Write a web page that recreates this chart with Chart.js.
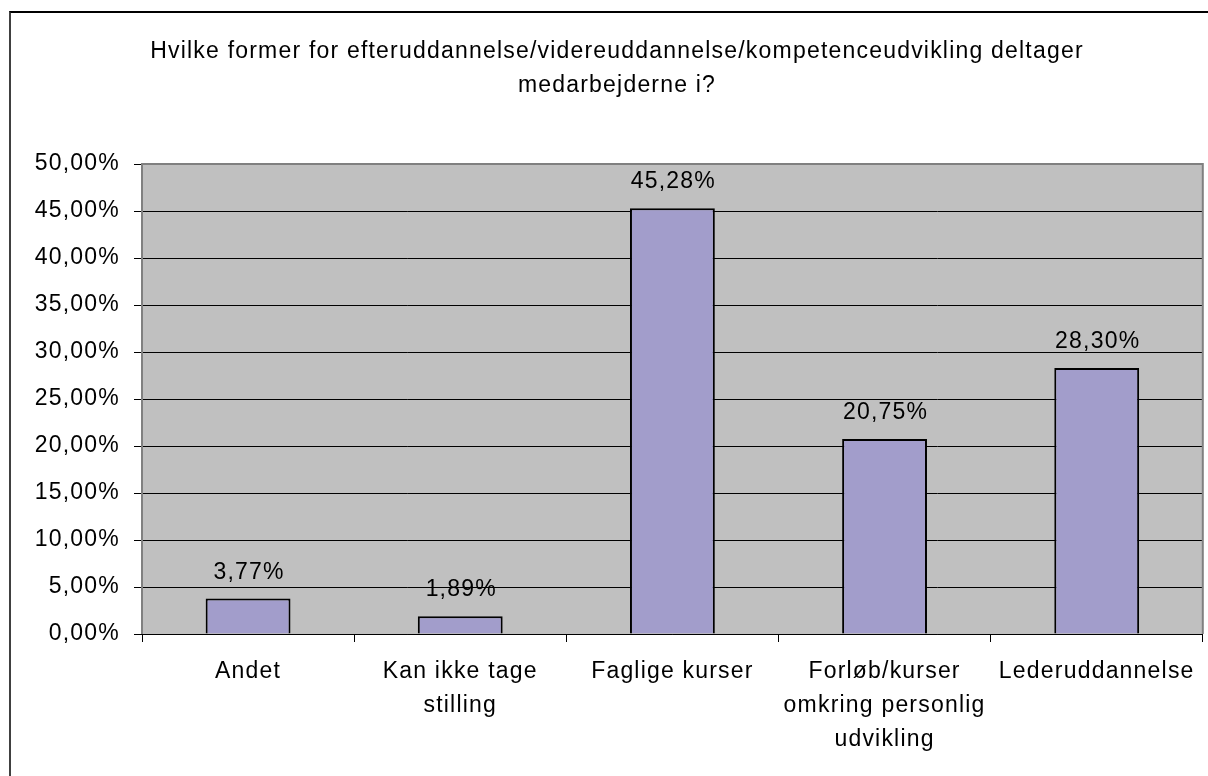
<!DOCTYPE html>
<html>
<head>
<meta charset="utf-8">
<script src="https://cdn.jsdelivr.net/npm/chart.js@4.4.1/dist/chart.umd.min.js"></script>
<style>
	html, body { margin: 0; padding: 0; background: #fff; overflow: hidden; }
	#wrap { position: relative; width: 1208px; height: 776px; }
	#frame {
		position: absolute; left: 9px; top: 11px; width: 1400px; height: 1000px;
		border-left: 2px solid #404040; border-top: 2px solid #000;
	}
	#chart { position: absolute; left: 0; top: 0; }
</style>
</head>
<body>
<div id="wrap">
	<div id="frame"></div>
	<canvas id="chart" width="1208" height="776"></canvas>
</div>
<script>
var TITLE_LINES = ['Hvilke former for efteruddannelse/videreuddannelse/kompetenceudvikling deltager', 'medarbejderne i?'];
var CATEGORIES = ['Andet', ['Kan ikke tage', 'stilling'], 'Faglige kurser', ['Forløb/kurser', 'omkring personlig', 'udvikling'], 'Lederuddannelse'];
var SHARES = [3.77, 1.89, 45.28, 20.75, 28.30];
var Y_MIN = 0, Y_MAX = 50, Y_STEP = 5;

var FONT = { family: "'Liberation Sans', Arial, sans-serif", size: 23, lineHeight: '34px' };

function pct(v) {
	return v.toFixed(2).replace('.', ',') + '%';
}

// Excel-like wide text: letter spacing has to be reset after every canvas resize
var spacingPlugin = {
	id: 'spacing',
	beforeLayout: function (chart) { chart.ctx.letterSpacing = '1.2px'; },
	beforeDraw: function (chart) { chart.ctx.letterSpacing = '1.2px'; }
};

// Grey plot background and its border
var plotAreaPlugin = {
	id: 'plotArea',
	beforeDraw: function (chart) {
		var a = chart.chartArea, ctx = chart.ctx;
		ctx.save();
		ctx.fillStyle = '#C0C0C0';
		ctx.fillRect(a.left, a.top, a.right - a.left, a.bottom - a.top);
		ctx.restore();
	},
	afterDraw: function (chart) {
		var a = chart.chartArea, ctx = chart.ctx;
		ctx.save();
		ctx.strokeStyle = '#808080';
		ctx.lineWidth = 2;
		ctx.beginPath();
		ctx.moveTo(a.left, a.bottom);
		ctx.lineTo(a.left, a.top);
		ctx.lineTo(a.right, a.top);
		ctx.lineTo(a.right, a.bottom);
		ctx.stroke();
		ctx.restore();
	}
};

// Value labels above each bar
var valueLabelPlugin = {
	id: 'valueLabels',
	afterDatasetsDraw: function (chart) {
		var ctx = chart.ctx;
		var meta = chart.getDatasetMeta(0);
		ctx.save();
		ctx.font = FONT.size + 'px ' + FONT.family;
		ctx.fillStyle = '#000';
		ctx.textAlign = 'center';
		ctx.textBaseline = 'alphabetic';
		meta.data.forEach(function (bar, i) {
			ctx.fillText(pct(SHARES[i]), bar.x + 1, bar.y - 20);
		});
		ctx.restore();
	}
};

var chart = new Chart(document.getElementById('chart'), {
	type: 'bar',
	data: {
		labels: CATEGORIES,
		datasets: [{
			data: SHARES,
			backgroundColor: '#A29DCB',
			borderColor: '#000',
			borderWidth: 2,
			categoryPercentage: 1,
			barPercentage: 0.4
		}]
	},
	options: {
		responsive: false,
		animation: false,
		layout: { padding: { left: 30, right: 4, top: 0, bottom: 19 } },
		plugins: {
			legend: { display: false },
			tooltip: { enabled: false },
			title: {
				display: true,
				text: TITLE_LINES,
				color: '#000',
				font: { family: FONT.family, size: FONT.size, weight: 'normal', lineHeight: FONT.lineHeight },
				padding: { top: 35, bottom: 61 }
			}
		},
		scales: {
			x: {
				grid: { drawOnChartArea: false, drawTicks: true, tickLength: 8, color: '#000', offset: true },
				border: { display: true, color: '#000', width: 1 },
				ticks: {
					color: '#000', font: FONT, padding: 13,
					maxRotation: 0, minRotation: 0, autoSkip: false
				},
				afterFit: function (scale) { scale.height = 123; }
			},
			y: {
				min: Y_MIN,
				max: Y_MAX,
				grid: { color: '#000', lineWidth: 1, tickLength: 8, drawTicks: true },
				border: { display: false },
				ticks: {
					stepSize: Y_STEP,
					color: '#000',
					font: { family: FONT.family, size: FONT.size, lineHeight: 1.2 },
					padding: 14,
					callback: function (v) { return pct(v); }
				},
				afterFit: function (scale) { scale.width = 112; }
			}
		}
	},
	plugins: [spacingPlugin, plotAreaPlugin, valueLabelPlugin]
});
</script>
</body>
</html>
